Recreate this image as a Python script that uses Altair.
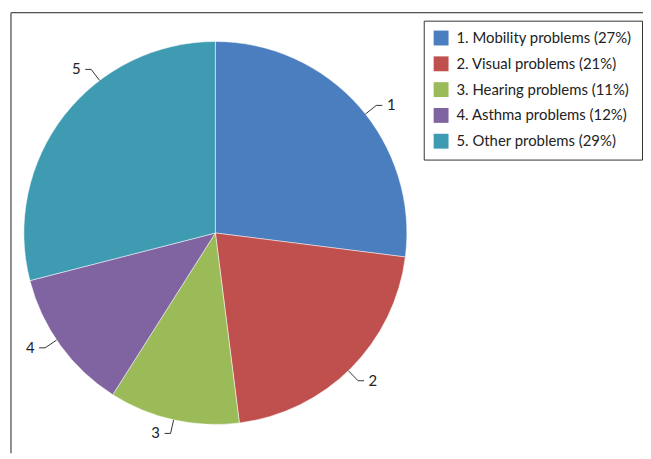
import math
import altair as alt
import pandas as pd

# ---- data ----
legend_labels = [
    "1. Mobility problems (27%)",
    "2. Visual problems (21%)",
    "3. Hearing problems (11%)",
    "4. Asthma problems (12%)",
    "5. Other problems (29%)",
]
slice_ids = ["1", "2", "3", "4", "5"]
shares = [27, 21, 11, 12, 29]
colors = ["#4A7EBF", "#C0504D", "#9BBB59", "#8064A2", "#3F9BB2"]

# ---- layout constants ----
W, H = 640, 447
CX, CY, R = 209, 225, 193
label_nudge_deg = [3, 1, 0, 2, 15]   # Excel-like "best fit" label shift

df = pd.DataFrame({"label": legend_labels, "sid": slice_ids,
                   "share": shares, "idx": list(range(len(shares)))})

total = float(sum(shares))
cum = 0.0
leader_rows, text_rows = [], []
for i, s in enumerate(shares):
    mid = (cum + s / 2.0) / total * 360.0 + label_nudge_deg[i]
    cum += s
    a = math.radians(mid)
    sx, sy = math.sin(a), -math.cos(a)
    ex, ey = CX + R * sx, CY + R * sy
    bx, by = CX + (R + 14) * sx, CY + (R + 14) * sy
    side = 1 if sx > 0 else -1
    tx = bx + 6 * side
    leader_rows += [dict(k=i, p=0, x=ex, y=ey),
                    dict(k=i, p=1, x=bx, y=by),
                    dict(k=i, p=2, x=tx, y=by)]
    text_rows.append(dict(k=i, t=slice_ids[i], x=tx + 9 * side, y=by))

leaders = pd.DataFrame(leader_rows)
texts = pd.DataFrame(text_rows)

pie = alt.Chart(df).mark_arc(radius=R, stroke="white", strokeWidth=0.5).encode(
    theta=alt.Theta("share:Q", stack=True),
    order=alt.Order("idx:Q"),
    color=alt.Color(
        "label:N",
        scale=alt.Scale(domain=legend_labels, range=colors),
        sort=legend_labels,
        legend=alt.Legend(
            title=None, orient="none", legendX=419, legendY=11,
            symbolType="square", symbolSize=225, symbolStrokeWidth=0,
            symbolOpacity=1,
            labelFont="Lato", labelFontSize=15, labelColor="#222",
            labelLimit=400, labelOffset=8,
            strokeColor="#333", fillColor="white", padding=10,
            rowPadding=10,
        ),
    ),
    x=alt.value(CX),
    y=alt.value(CY),
).properties(width=W, height=H)

lines = alt.Chart(leaders).mark_line(color="#333", strokeWidth=1).encode(
    x=alt.X("x:Q", scale=None, axis=None),
    y=alt.Y("y:Q", scale=None, axis=None),
    detail="k:N",
    order="p:Q",
)

nums = alt.Chart(texts).mark_text(font="Lato", fontSize=15, color="#222",
                                  align="center", baseline="middle").encode(
    x=alt.X("x:Q", scale=None, axis=None),
    y=alt.Y("y:Q", scale=None, axis=None),
    text="t:N",
)

frame_df = pd.DataFrame({"d": [0]})
top_rule = alt.Chart(frame_df).mark_rule(color="#222", strokeWidth=1).encode(
    x=alt.value(3), x2=alt.value(W), y=alt.value(3))
left_rule = alt.Chart(frame_df).mark_rule(color="#6b6b6b", strokeWidth=1.5).encode(
    x=alt.value(3), y=alt.value(3), y2=alt.value(H))

chart = alt.layer(pie, lines, nums, top_rule, left_rule).properties(
    width=W, height=H,
    autosize=alt.AutoSizeParams(type="none"),
    padding=0,
    background="white",
).configure_view(stroke=None)

chart.save("out.html", embed_options={"renderer": "svg", "actions": False})
